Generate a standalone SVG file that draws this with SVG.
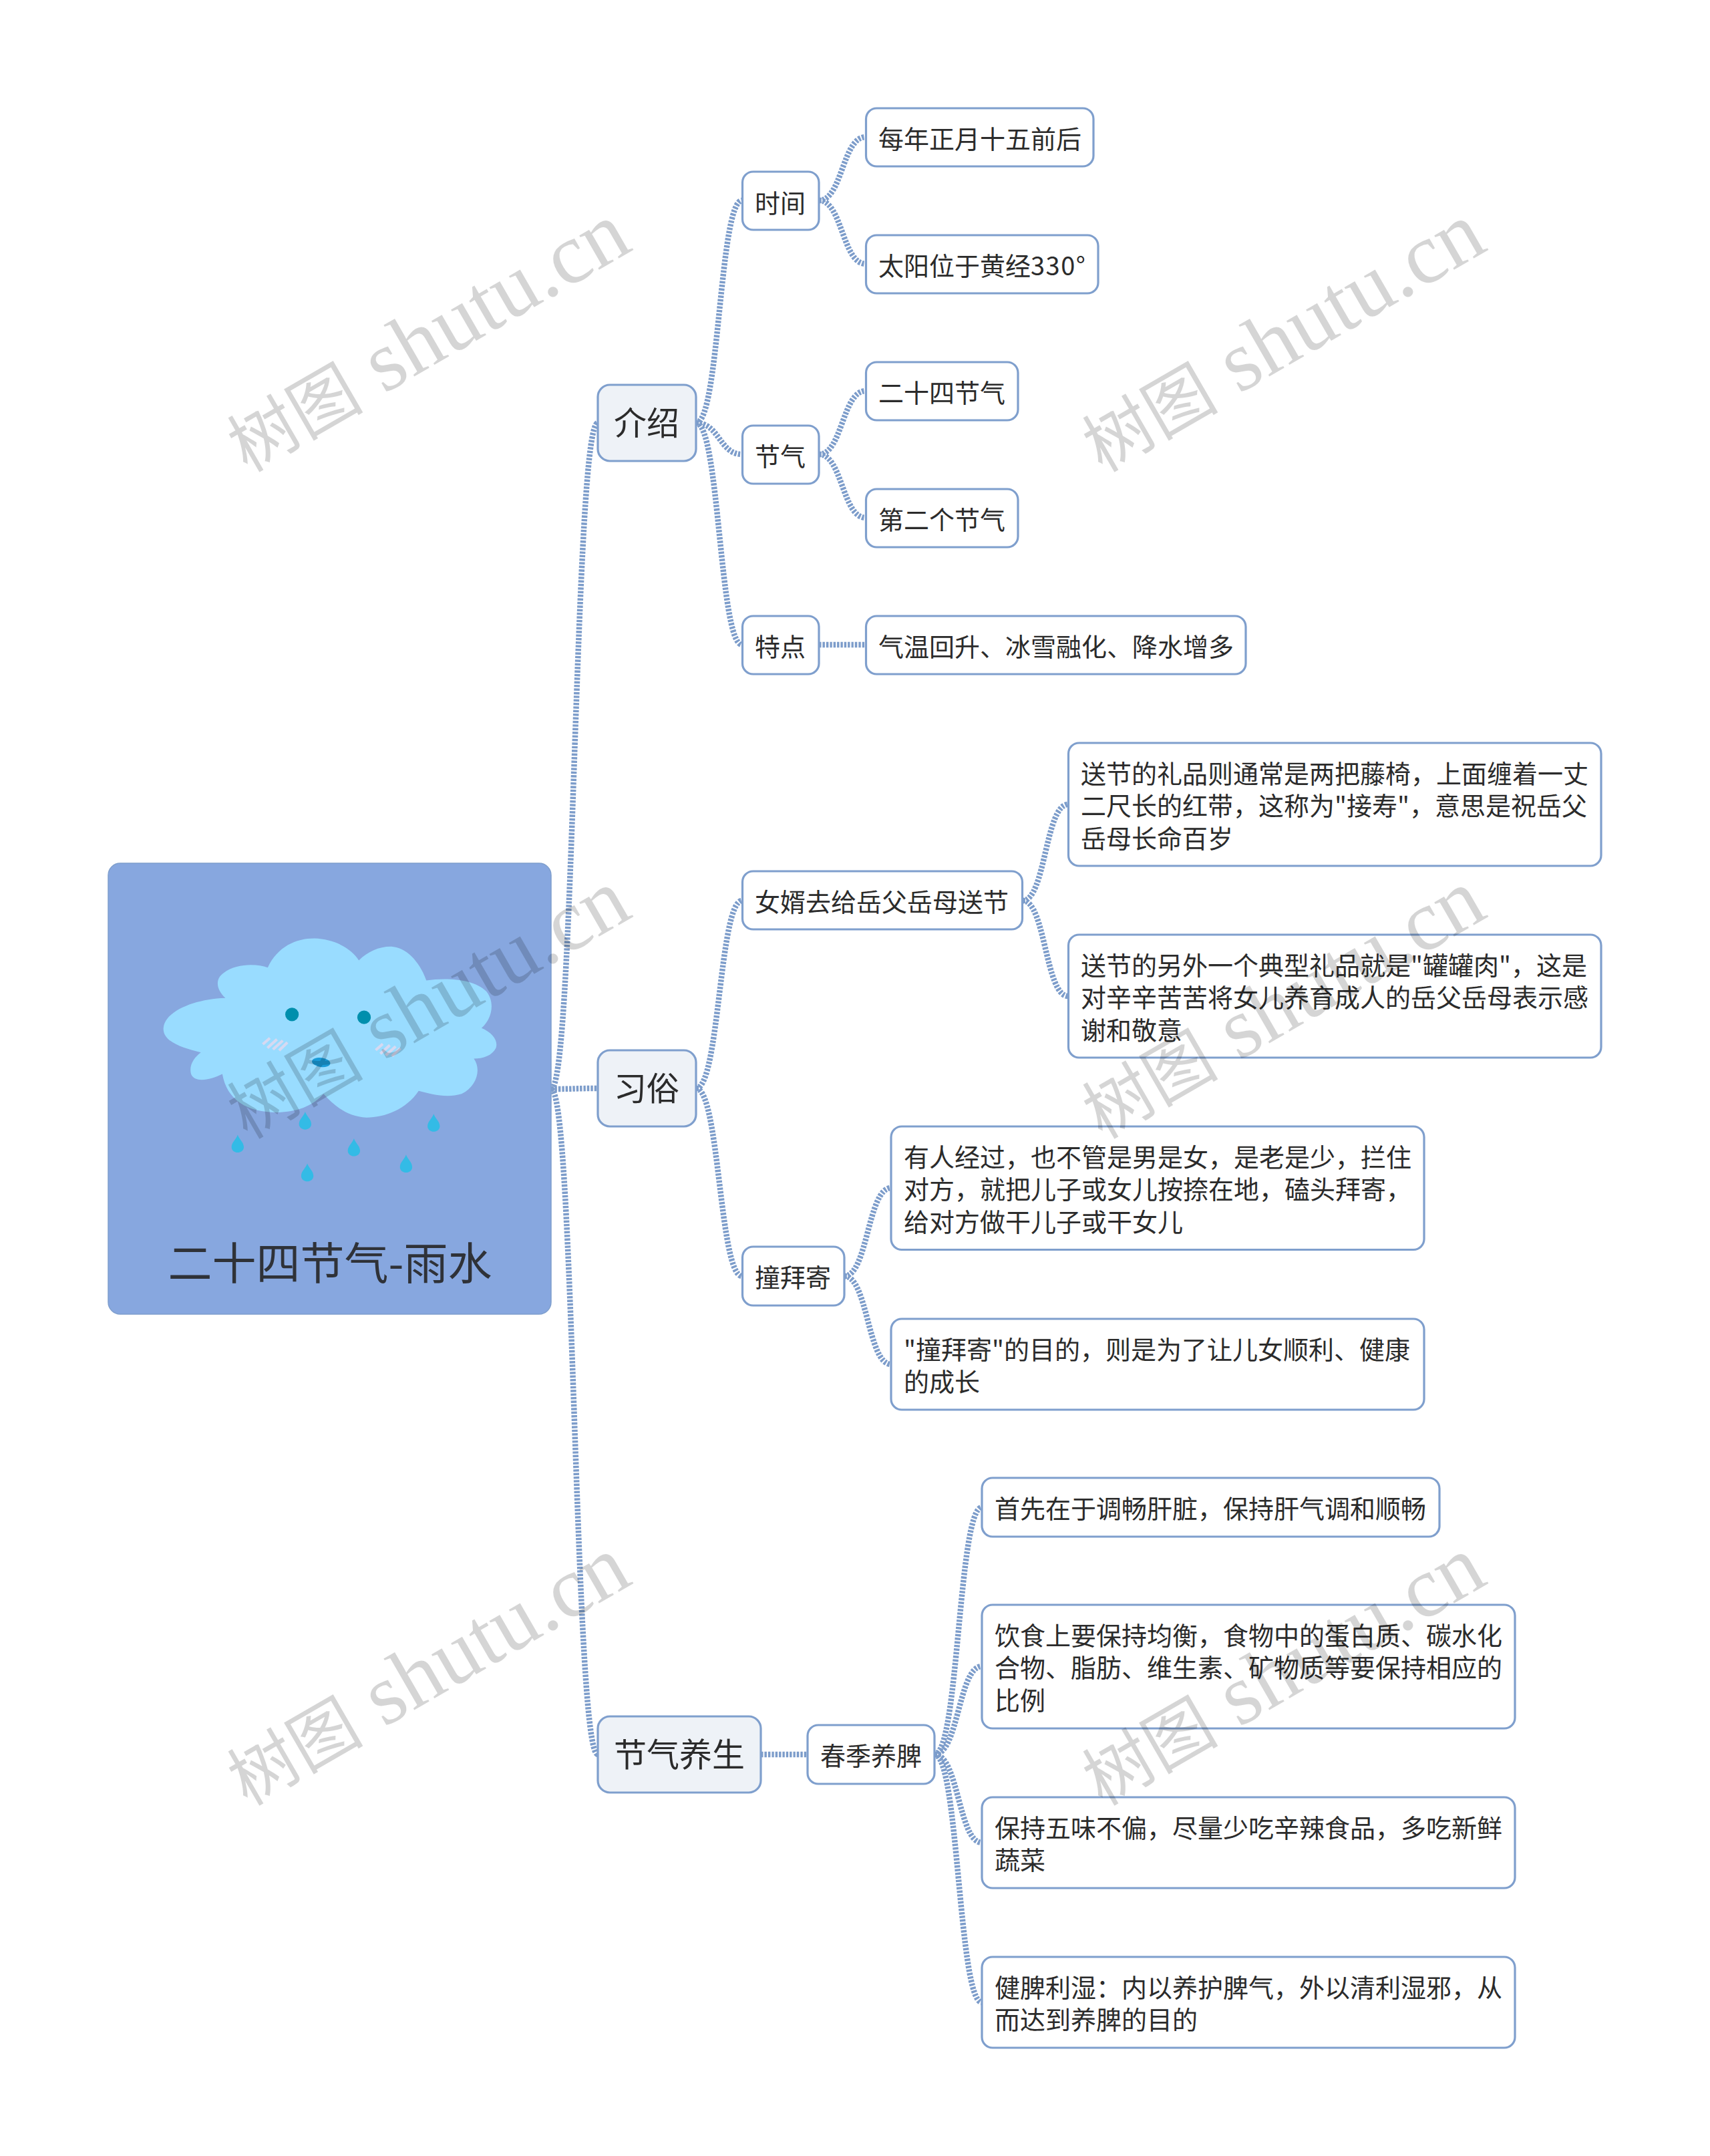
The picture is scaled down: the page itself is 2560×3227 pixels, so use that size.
<svg xmlns="http://www.w3.org/2000/svg" xmlns:xlink="http://www.w3.org/1999/xlink" width="2560" height="3227" viewBox="0 0 2560 3227">
<style>
text{font-family:"Noto Sans CJK SC","Liberation Sans",sans-serif;fill:#2b2b2b}
.box{fill:#fff;stroke:#7f9fcd;stroke-width:3.2}
.l1{fill:#eef2f7;stroke:#7f9fcd;stroke-width:3.2}
.t38{font-size:38px}
.t48{font-size:49px}
.root{fill:#87a7df;stroke:#7f9fcd;stroke-width:1.5}
.rt{font-size:66px;fill:#2f3238;text-anchor:middle}
#connectors path{fill:none;stroke:#7c9cca;stroke-width:8.5;stroke-dasharray:3.4 2}
.wm{font-family:"Liberation Serif","Noto Sans CJK SC",serif;font-size:129px;fill:#000;fill-opacity:.165}
.wmc{font-size:102px}
.blush{stroke:#e0d8ee;stroke-width:9;fill:none;opacity:.85}
</style>
<defs>
<path id="drop" d="M0-30C5-15 20-5 20 10C20 22 10 28 0 28C-10 28-20 22-20 10C-20-5-5-15 0-30Z" fill="#33bbe6"/>
<text id="wmt" class="wm" transform="translate(370 708) rotate(-30)"><tspan class="wmc">树图</tspan> shutu.cn</text>
</defs>
<rect width="2560" height="3227" fill="#fff"/>
<g id="connectors">
<path d="M825 1630C860 1630 860 633 895 633"/>
<path d="M825 1630C860 1630 860 1629 895 1629"/>
<path d="M825 1630C860 1630 860 2626 895 2626"/>
<path d="M1042 633C1077 633 1077 300 1111 300"/>
<path d="M1042 633C1077 633 1077 680 1111 680"/>
<path d="M1042 633C1077 633 1077 965 1111 965"/>
<path d="M1226 300C1261 300 1261 205 1296 205"/>
<path d="M1226 300C1261 300 1261 395 1296 395"/>
<path d="M1226 680C1261 680 1261 585 1296 585"/>
<path d="M1226 680C1261 680 1261 775 1296 775"/>
<path d="M1226 965C1261 965 1261 965 1296 965"/>
<path d="M1042 1629C1077 1629 1077 1348 1111 1348"/>
<path d="M1042 1629C1077 1629 1077 1910 1111 1910"/>
<path d="M1531 1348C1565 1348 1565 1204 1599 1204"/>
<path d="M1531 1348C1565 1348 1565 1491 1599 1491"/>
<path d="M1264 1910C1299 1910 1299 1778 1334 1778"/>
<path d="M1264 1910C1299 1910 1299 2042 1334 2042"/>
<path d="M1139 2626C1174 2626 1174 2626 1209 2626"/>
<path d="M1399 2626C1435 2626 1435 2256 1470 2256"/>
<path d="M1399 2626C1435 2626 1435 2494 1470 2494"/>
<path d="M1399 2626C1435 2626 1435 2758 1470 2758"/>
<path d="M1399 2626C1435 2626 1435 2997 1470 2997"/>
</g>
<g id="root">
<rect class="root" x="162" y="1292" width="663" height="675" rx="18"/>
<g transform="translate(140 1270) scale(.4592)">
<path fill="#99dcff" d="M228 585C232 530 330 490 430 487C400 460 395 425 425 405C465 375 530 375 568 388C600 320 660 293 720 293C790 295 845 330 865 365C895 335 935 318 975 320C1030 325 1070 385 1085 430C1150 420 1240 425 1280 465C1310 500 1300 555 1265 585C1300 600 1320 625 1312 650C1300 675 1270 685 1240 685C1265 720 1250 775 1200 800C1150 815 1100 800 1060 790C1020 850 950 877 890 877C830 875 785 840 750 800C715 840 660 860 600 860C500 860 435 820 420 735C380 755 330 765 318 735C310 705 330 680 350 665C290 650 225 630 228 585Z"/>
<circle cx="647" cy="541" r="22" fill="#008fad"/>
<circle cx="882" cy="550" r="22" fill="#008fad"/>
<ellipse cx="742" cy="697" rx="30" ry="15" fill="#1a9bd8" transform="rotate(8 742 697)"/>
<path class="blush" d="M552 638L575 618M567 650L598 622M585 655L617 626M605 658L632 632"/>
<path class="blush" d="M920 657L943 637M935 669L966 641M953 674L985 645M973 677L1000 651"/>
<use xlink:href="#drop" href="#drop" x="690" y="888"/>
<use xlink:href="#drop" href="#drop" x="1109" y="895"/>
<use xlink:href="#drop" href="#drop" x="470" y="963"/>
<use xlink:href="#drop" href="#drop" x="849" y="975"/>
<use xlink:href="#drop" href="#drop" x="1019" y="1028"/>
<use xlink:href="#drop" href="#drop" x="697" y="1057"/>
</g>
<text class="rt" x="494" y="1915">二十四节气-雨水</text>
</g>
<g id="n-jieshao"><rect class="l1" x="895" y="576" width="147" height="114" rx="18"/><text class="t48" x="919" y="651">介绍</text></g>
<g id="n-xisu"><rect class="l1" x="895" y="1572" width="147" height="114" rx="18"/><text class="t48" x="919" y="1647">习俗</text></g>
<g id="n-yangsheng"><rect class="l1" x="895" y="2569" width="244" height="114" rx="18"/><text class="t48" x="919" y="2644">节气养生</text></g>
<g id="n-shijian"><rect class="box" x="1111.5" y="257" width="114.5" height="87" rx="16"/><text class="t38" x="1130" y="318">时间</text></g>
<g id="n-jieqi"><rect class="box" x="1111.5" y="637" width="114.5" height="87" rx="16"/><text class="t38" x="1130" y="697">节气</text></g>
<g id="n-tedian"><rect class="box" x="1111.5" y="922" width="114.5" height="87" rx="16"/><text class="t38" x="1130" y="982">特点</text></g>
<g id="n-a1"><rect class="box" x="1296.5" y="162" width="340.5" height="87" rx="16"/><text class="t38" x="1315" y="222">每年正月十五前后</text></g>
<g id="n-a2"><rect class="box" x="1296.5" y="352" width="347.5" height="87" rx="16"/><text class="t38" x="1315" y="412">太阳位于黄经<tspan letter-spacing="1.5">330°</tspan></text></g>
<g id="n-b1"><rect class="box" x="1296.5" y="542" width="227.5" height="87" rx="16"/><text class="t38" x="1315" y="602">二十四节气</text></g>
<g id="n-b2"><rect class="box" x="1296.5" y="732" width="227.5" height="87" rx="16"/><text class="t38" x="1315" y="792">第二个节气</text></g>
<g id="n-c1"><rect class="box" x="1296.5" y="922" width="568.5" height="87" rx="16"/><text class="t38" x="1315" y="982">气温回升、冰雪融化、降水增多</text></g>
<g id="n-nvxu"><rect class="box" x="1111.5" y="1304" width="419" height="87" rx="16"/><text class="t38" x="1130" y="1364">女婿去给岳父岳母送节</text></g>
<g id="n-d1"><rect class="box" x="1599.5" y="1112" width="797.5" height="184" rx="16"/><text class="t38" x="1618" y="1172">送节的礼品则通常是两把藤椅，上面缠着一丈</text><text class="t38" x="1618" y="1220">二尺长的红带，这称为"接寿"，意思是祝岳父</text><text class="t38" x="1618" y="1269">岳母长命百岁</text></g>
<g id="n-d2"><rect class="box" x="1599.5" y="1399" width="797.5" height="184" rx="16"/><text class="t38" x="1618" y="1459">送节的另外一个典型礼品就是"罐罐肉"，这是</text><text class="t38" x="1618" y="1507">对辛辛苦苦将女儿养育成人的岳父岳母表示感</text><text class="t38" x="1618" y="1556">谢和敬意</text></g>
<g id="n-zhuang"><rect class="box" x="1111.5" y="1866" width="152.5" height="88" rx="16"/><text class="t38" x="1130" y="1926">撞拜寄</text></g>
<g id="n-e1"><rect class="box" x="1334" y="1686" width="798" height="184.500" rx="16"/><text class="t38" x="1353" y="1746">有人经过，也不管是男是女，是老是少，拦住</text><text class="t38" x="1353" y="1794">对方，就把儿子或女儿按捺在地，磕头拜寄，</text><text class="t38" x="1353" y="1843">给对方做干儿子或干女儿</text></g>
<g id="n-e2"><rect class="box" x="1334" y="1974" width="798" height="136" rx="16"/><text class="t38" x="1353" y="2034">"撞拜寄"的目的，则是为了让儿女顺利、健康</text><text class="t38" x="1353" y="2082">的成长</text></g>
<g id="n-chunji"><rect class="box" x="1209" y="2582" width="190" height="88" rx="16"/><text class="t38" x="1228" y="2642">春季养脾</text></g>
<g id="n-f1"><rect class="box" x="1470" y="2212" width="685" height="88" rx="16"/><text class="t38" x="1489" y="2272">首先在于调畅肝脏，保持肝气调和顺畅</text></g>
<g id="n-f2"><rect class="box" x="1470" y="2402" width="798" height="185" rx="16"/><text class="t38" x="1489" y="2462">饮食上要保持均衡，食物中的蛋白质、碳水化</text><text class="t38" x="1489" y="2510">合物、脂肪、维生素、矿物质等要保持相应的</text><text class="t38" x="1489" y="2559">比例</text></g>
<g id="n-f3"><rect class="box" x="1470" y="2690" width="798" height="136" rx="16"/><text class="t38" x="1489" y="2750">保持五味不偏，尽量少吃辛辣食品，多吃新鲜</text><text class="t38" x="1489" y="2798">蔬菜</text></g>
<g id="n-f4"><rect class="box" x="1470" y="2929" width="798" height="136" rx="16"/><text class="t38" x="1489" y="2989">健脾利湿：内以养护脾气，外以清利湿邪，从</text><text class="t38" x="1489" y="3037">而达到养脾的目的</text></g>
<g id="watermark">
<use xlink:href="#wmt" href="#wmt"/>
<use xlink:href="#wmt" href="#wmt" x="1280"/>
<use xlink:href="#wmt" href="#wmt" y="998"/>
<use xlink:href="#wmt" href="#wmt" x="1280" y="998"/>
<use xlink:href="#wmt" href="#wmt" y="1996"/>
<use xlink:href="#wmt" href="#wmt" x="1280" y="1996"/>
</g>
</svg>
